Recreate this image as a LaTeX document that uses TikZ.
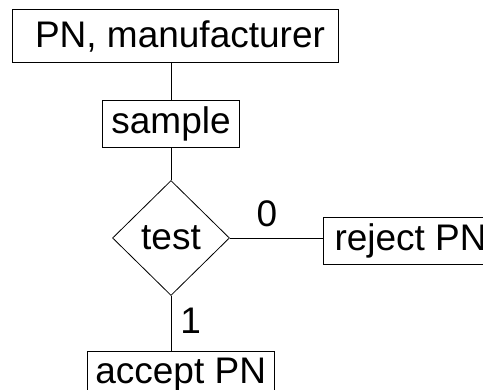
\documentclass[tikz,border=0pt]{standalone}
\usepackage{fontspec}
\setmainfont{Liberation Sans}
\usetikzlibrary{shapes.geometric}

\begin{document}
\begin{tikzpicture}[x=1pt, y=-1pt, line width=0.8pt,
    font=\fontsize{37}{44}\selectfont,
    box/.style={draw, rectangle, inner sep=0pt, minimum height=47pt},
    decision/.style={draw, diamond, inner sep=0pt, minimum width=117pt, minimum height=115pt}]
  \useasboundingbox (0,0) rectangle (483,390);

  % boxes
  \node[box, minimum width=326pt, minimum height=53pt] (pn) at (175,36) {\hspace{10pt}PN, manufacturer};
  \node[box, minimum width=137pt] (sample) at (171,123.5) {sample};
  \node[decision] (test) at (171,238) {test};
  \node[box, anchor=west, minimum width=175pt] (reject) at (322.7,240.7) {reject PN};
  \node[box, anchor=north, minimum width=187pt] (accept) at (180.7,350.7) {accept PN};

  % connectors
  \draw (sample.north) -- (sample.north |- pn.south);
  \draw (sample.south) -- (test.north);
  \draw (test.east) -- node[pos=0.4, above=8pt, inner sep=3pt] (zero) {0} (test.east -| reject.west);
  \draw (test.south) -- node[pos=0.45, right=6pt, inner sep=3pt] (one) {1} (test.south |- accept.north);
\end{tikzpicture}
\end{document}
